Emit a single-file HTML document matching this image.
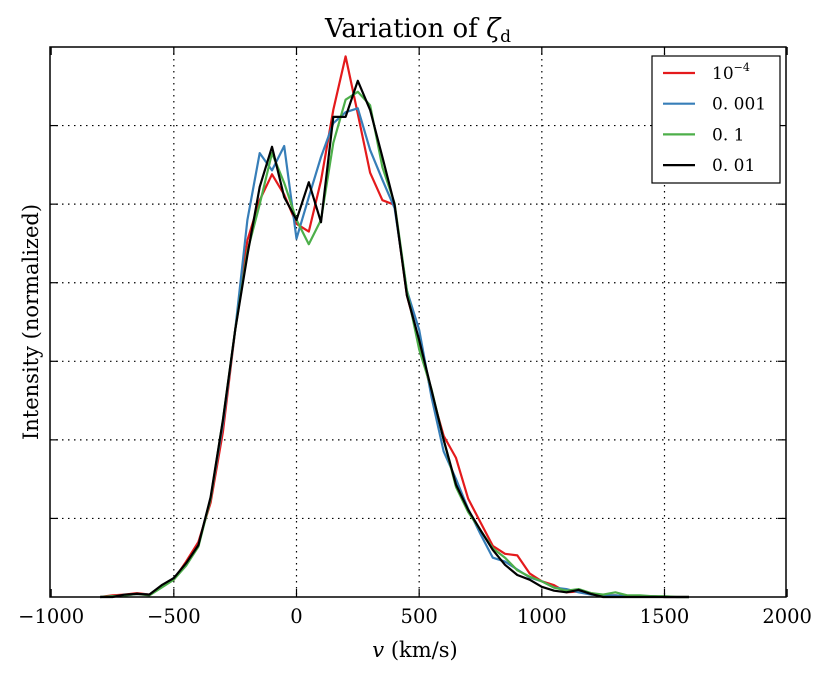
<!DOCTYPE html>
<html><head><meta charset="utf-8"><style>
body{margin:0;background:#fff;width:830px;height:677px;overflow:hidden}
svg{display:block}
text{font-family:"DejaVu Serif","Liberation Serif",serif;fill:#000}
</style></head><body>
<svg id="chart" width="830" height="677">
<text x="418" y="37" font-size="26" text-anchor="middle">Variation of <tspan font-style="italic">ζ</tspan><tspan font-size="17" dy="5">d</tspan></text>
<g id="grid"></g>
<g id="series"></g>
<rect x="50" y="47" width="736" height="550" fill="none" stroke="#000" stroke-width="1.5"/>
<g id="ticks"></g>
<text x="415" y="657" font-size="21" text-anchor="middle"><tspan font-style="italic">v</tspan> (km/s)</text>
<text transform="translate(38,322) rotate(-90)" font-size="21" text-anchor="middle">Intensity (normalized)</text>
<g id="legend"></g>
</svg>
<script>
const xTicks=[-1000,-500,0,500,1000,1500,2000];
const xTickLabels=["\u22121000","\u2212500","0","500","1000","1500","2000"];
const yTicks=[1,2,3,4,5,6];
const vel=[-800,-750,-700,-650,-600,-550,-500,-450,-400,-350,-300,-250,-200,-150,-100,-50,0,50,100,150,200,250,300,350,400,450,500,550,600,650,700,750,800,850,900,950,1000,1050,1100,1150,1200,1250,1300,1350,1400,1450,1500,1550,1600];
const seriesNames=["10^-4","0.001","0.1","0.01"];
const redVals=[0,0.02,0.03,0.05,0.03,0.14,0.22,0.45,0.70,1.20,2.10,3.40,4.54,5.05,5.38,5.12,4.75,4.65,5.30,6.20,6.88,6.15,5.40,5.05,4.99,3.84,3.25,2.60,2.05,1.77,1.25,0.95,0.65,0.55,0.53,0.30,0.20,0.15,0.06,0.07,0.05,0.02,0.02,0.01,0.01,0.01,0,0,0];
const blueVals=[0,0.01,0.02,0.04,0.03,0.14,0.24,0.40,0.66,1.25,2.20,3.40,4.80,5.65,5.43,5.74,4.56,5.09,5.60,6.03,6.17,6.22,5.69,5.31,4.95,3.90,3.40,2.55,1.85,1.50,1.12,0.80,0.50,0.45,0.35,0.25,0.20,0.12,0.10,0.06,0.03,0.02,0.02,0.01,0.01,0.01,0,0,0];
const greenVals=[0,0.01,0.02,0.04,0.02,0.12,0.22,0.40,0.64,1.25,2.25,3.40,4.40,5.00,5.65,5.27,4.80,4.49,4.80,5.78,6.33,6.43,6.26,5.47,5.01,3.90,3.15,2.65,2.00,1.40,1.08,0.85,0.62,0.50,0.34,0.26,0.20,0.12,0.08,0.10,0.05,0.03,0.06,0.02,0.02,0.01,0.01,0,0];
const blackVals=[0,0,0.03,0.04,0.03,0.15,0.24,0.43,0.66,1.27,2.25,3.40,4.35,5.22,5.73,5.09,4.80,5.28,4.77,6.11,6.11,6.57,6.20,5.60,4.99,3.84,3.27,2.64,2.00,1.43,1.11,0.85,0.60,0.41,0.28,0.22,0.13,0.08,0.06,0.09,0.04,0,0,0,0,0,0,0,0];
const colors=["#e41a1c","#377eb8","#4daf4a","#000000"];
const X=v=>296.5+(v)*0.24533;
const Y=f=>597-f*78.57;
const NS="http://www.w3.org/2000/svg";
function mk(tag,parent,attrs){const e=document.createElementNS(NS,tag);for(const k in attrs)e.setAttribute(k,attrs[k]);parent.appendChild(e);return e;}
const grid=document.getElementById('grid'),ticks=document.getElementById('ticks');
xTicks.forEach((t,i)=>{const x=X(t);
 if(i>0&&i<xTicks.length-1){const g=mk('line',grid,{x1:x,x2:x,y1:47,y2:597,stroke:'#000','stroke-dasharray':'1.5,4.5','stroke-width':1.2});
 
 }
 const a=mk('line',ticks,{x1:x,x2:x,y1:597,y2:589,stroke:'#000','stroke-width':1.2});
 
 
 const b=mk('line',ticks,{x1:x,x2:x,y1:47,y2:55,stroke:'#000','stroke-width':1.2});
 
 
 const l=mk('text',ticks,{x:x,y:623,'font-size':19.5,'text-anchor':'middle'});l.textContent=xTickLabels[i];
 
 
});
yTicks.forEach(t=>{const y=Y(t);
 const g=mk('line',grid,{x1:50,x2:786,y1:y,y2:y,stroke:'#000','stroke-dasharray':'1.5,4.5','stroke-width':1.2});
 
 
 const a=mk('line',ticks,{x1:50,x2:58,y1:y,y2:y,stroke:'#000','stroke-width':1.2});
 
 
 const b=mk('line',ticks,{x1:778,x2:786,y1:y,y2:y,stroke:'#000','stroke-width':1.2});
 
 
});
const sg=document.getElementById('series');
[redVals,blueVals,greenVals,blackVals].forEach((vals,si)=>{
 const pts=vals.map((f,i)=>X(vel[i]).toFixed(1)+','+Y(f).toFixed(1)).join(' ');
 const p=mk('polyline',sg,{points:pts,fill:'none',stroke:colors[si],'stroke-width':2.2,'stroke-linejoin':'round'});
 
 
});
const lg=document.getElementById('legend');
const box=mk('rect',lg,{x:652,y:56,width:128,height:127,fill:'#fff',stroke:'#000','stroke-width':1.2});


const labels=["10","0.001","0.1","0.01"];
labels.forEach((s,i)=>{const y=73+i*30.7;
 const ln=mk('line',lg,{x1:663,x2:695,y1:y,y2:y,stroke:colors[i],'stroke-width':2.2});
 
 
 const t=mk('text',lg,{x:712,y:y+6,'font-size':17});
 
 
 if(i===0){t.textContent='10';const sp=mk('tspan',t,{'font-size':11,dy:-8});sp.textContent='\u22124';}
 else t.textContent=s.replace('.','. ');
});
</script>
</body></html>
